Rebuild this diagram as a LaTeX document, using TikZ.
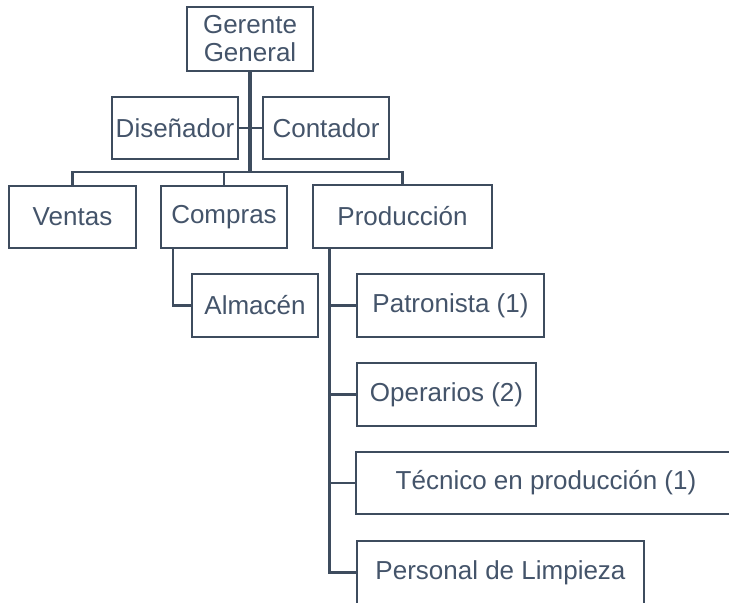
\documentclass[tikz,border=0pt]{standalone}
\usepackage{fontspec}
\setmainfont{Liberation Sans}
\usetikzlibrary{calc}
\definecolor{linec}{HTML}{3E4C5E}
\definecolor{textc}{HTML}{44546A}
\tikzset{
  box/.style={draw=linec, line width=1.9pt, text=textc, inner sep=0pt, align=center,
    font=\fontsize{19.5}{21}\selectfont},
  conn/.style={draw=linec, line width=1.7pt},
  trunk/.style={draw=linec, line width=2.3pt}
}
\begin{document}
\begin{tikzpicture}[x=0.75pt,y=-0.75pt]
\useasboundingbox (0,0) rectangle (729,603);
\node[box, minimum width=126*0.75pt, minimum height=64*0.75pt] (G) at (250,39) {Gerente\\General};
\node[box, minimum width=126*0.75pt, minimum height=62*0.75pt] (D) at (175,128) {Diseñador};
\node[box, minimum width=126*0.75pt, minimum height=62*0.75pt] (C) at (326,128) {Contador};
\node[box, minimum width=127*0.75pt, minimum height=62*0.75pt] (V) at (72.5,217) {Ventas};
\node[box, minimum width=126*0.75pt, minimum height=62*0.75pt] (Co) at (224,217) {Compras};
\node[box, minimum width=179*0.75pt, minimum height=63*0.75pt] (P) at (402.5,216.5) {Producción};
\node[box, minimum width=126*0.75pt, minimum height=63*0.75pt] (A) at (255,305.5) {Almacén};
\node[box, minimum width=187*0.75pt, minimum height=63*0.75pt] (Pa) at (450.5,305.5) {Patronista (1)};
\node[box, minimum width=179*0.75pt, minimum height=63*0.75pt] (O) at (446.5,394.5) {Operarios (2)};
\node[box, minimum width=380*0.75pt, minimum height=62*0.75pt] (T) at (546,483) {Técnico en producción (1)};
\node[box, minimum width=287*0.75pt, minimum height=63*0.75pt] (L) at (500.5,572.5) {Personal de Limpieza};
% connectors
\coordinate (bar) at (250,172);
\draw[trunk] (G.south) -- (bar);
\draw[conn] (D.east) -- (C.west);
\draw[conn] (V.north) -- (V.north |- bar) -- (P.north |- bar) -- (P.north);
\draw[conn] (Co.north) -- (Co.north |- bar);
\coordinate (cx) at ($(Co.south west)+(13,0)$);
\draw[conn] (cx) |- (A.west);
\coordinate (px) at ($(P.south west)+(18,0)$);
\draw[trunk] (px) |- (L.west);
\draw[conn] (px |- Pa.west) -- (Pa.west);
\draw[conn] (px |- O.west) -- (O.west);
\draw[conn] (px |- T.west) -- (T.west);
\end{tikzpicture}
\end{document}
